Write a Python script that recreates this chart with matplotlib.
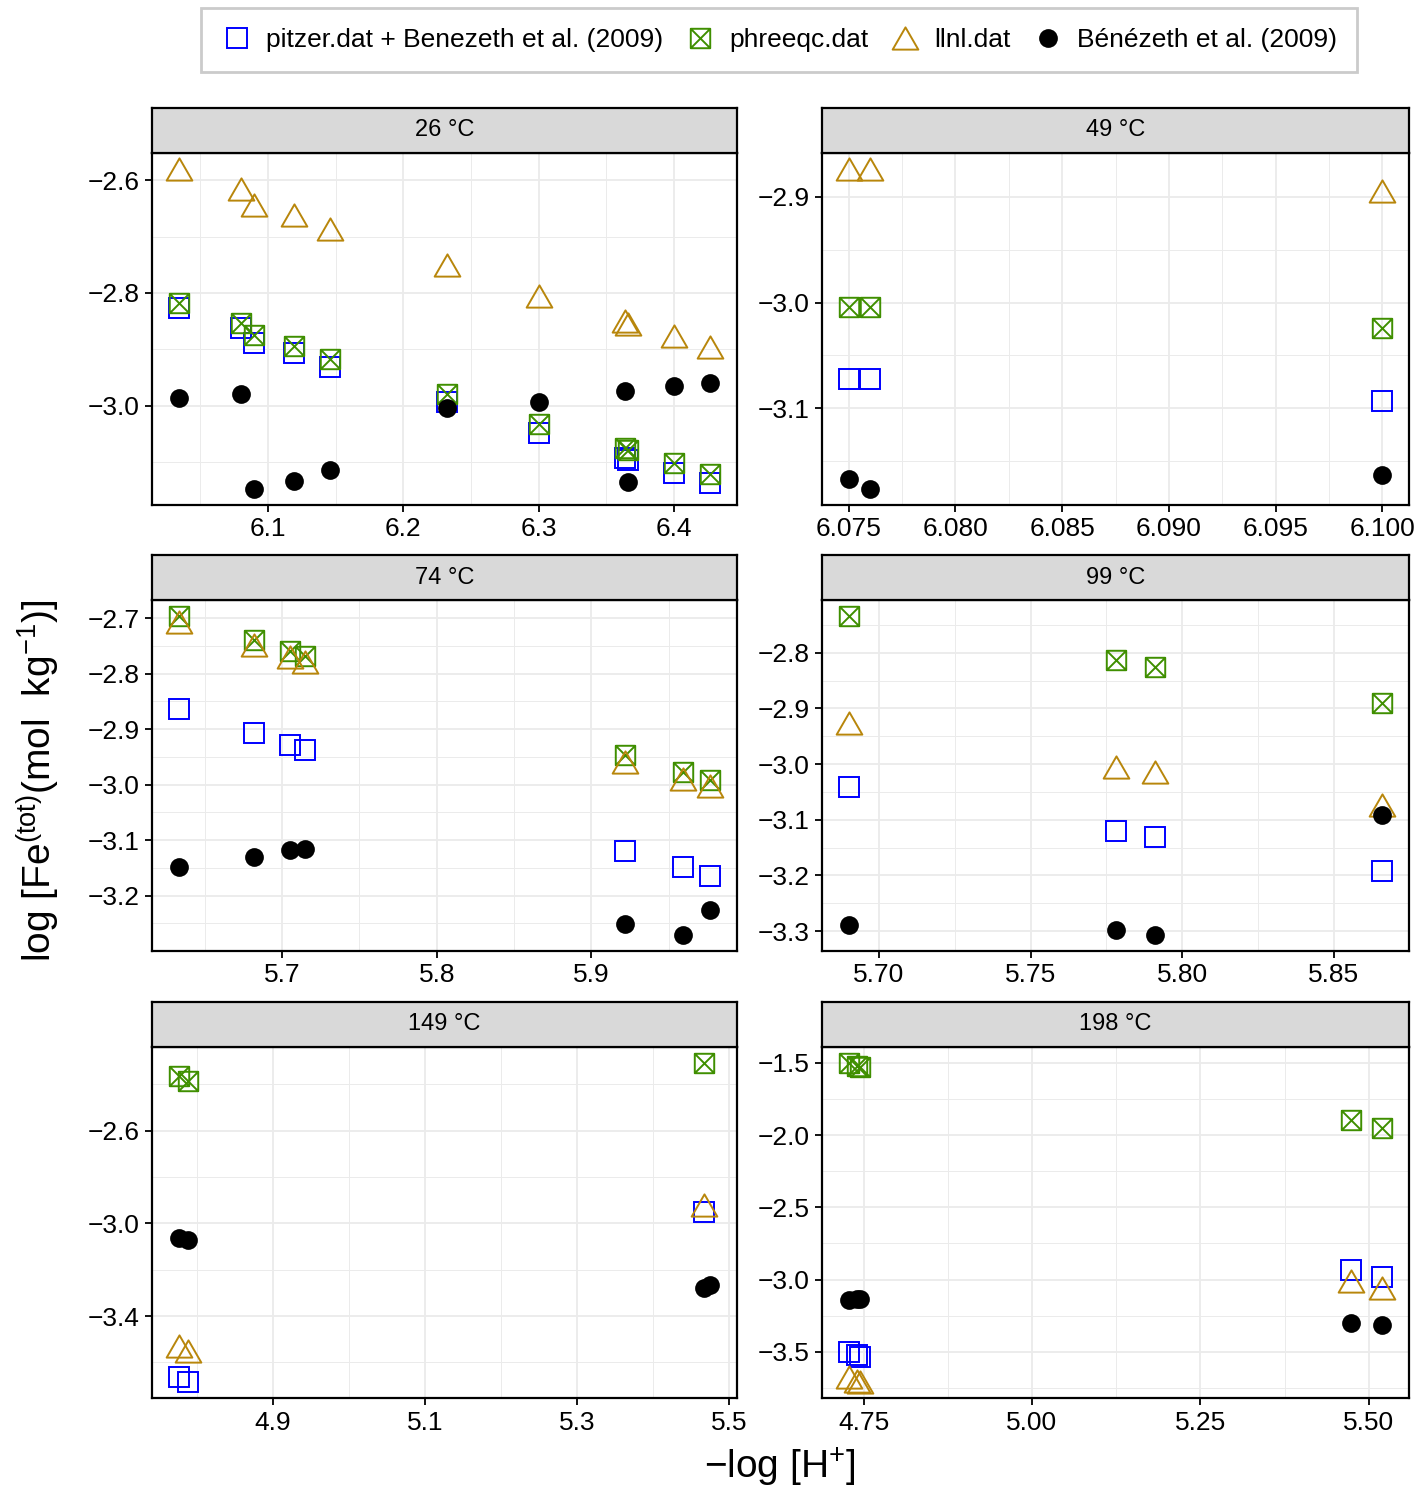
import matplotlib
matplotlib.use("Agg")
import matplotlib.pyplot as plt
import matplotlib.path as mpath
from matplotlib.lines import Line2D
from matplotlib.ticker import FixedLocator, FuncFormatter

plt.rcParams['font.family'] = ['Liberation Sans', 'DejaVu Sans']
plt.rcParams['mathtext.fontset'] = 'custom'
plt.rcParams['mathtext.rm'] = 'Liberation Sans'
plt.rcParams['mathtext.it'] = 'Liberation Sans'

# facet titles
temps = ["26 °C", "49 °C", "74 °C", "99 °C", "149 °C", "198 °C"]

# -log[H+] of the model points, per facet
ph = [
    [6.034, 6.080, 6.090, 6.119, 6.146, 6.232, 6.300, 6.364, 6.366, 6.400, 6.427],
    [6.075, 6.076, 6.100],
    [5.633, 5.682, 5.705, 5.715, 5.922, 5.959, 5.977],
    [5.690, 5.778, 5.791, 5.866],
    [4.776, 4.788, 5.466],
    [4.728, 4.740, 4.745, 5.474, 5.520],
]
# log Fe(tot) for each database
pitzer = [
    [-2.827, -2.863, -2.888, -2.907, -2.932, -2.994, -3.049, -3.093, -3.097, -3.119, -3.138],
    [-3.072, -3.072, -3.093],
    [-2.864, -2.907, -2.928, -2.937, -3.119, -3.148, -3.164],
    [-3.041, -3.120, -3.131, -3.192],
    [-3.665, -3.685, -2.952],
    [-3.500, -3.523, -3.535, -2.933, -2.979],
]
phreeqc = [
    [-2.817, -2.853, -2.874, -2.894, -2.917, -2.979, -3.033, -3.075, -3.079, -3.102, -3.121],
    [-3.004, -3.004, -3.024],
    [-2.696, -2.739, -2.760, -2.769, -2.946, -2.977, -2.992],
    [-2.734, -2.813, -2.825, -2.891],
    [-2.365, -2.385, -2.307],
    [-1.500, -1.519, -1.528, -1.895, -1.951],
]
llnl = [
    [-2.580, -2.616, -2.644, -2.662, -2.686, -2.750, -2.805, -2.850, -2.855, -2.877, -2.896],
    [-2.874, -2.874, -2.895],
    [-2.707, -2.749, -2.770, -2.779, -2.959, -2.989, -3.003],
    [-2.926, -3.005, -3.014, -3.074],
    [-3.531, -3.551, -2.921],
    [-3.674, -3.700, -3.710, -3.012, -3.058],
]
# measured values (Benezeth et al. 2009)
obs_ph = [
    [6.034, 6.080, 6.090, 6.119, 6.146, 6.232, 6.300, 6.364, 6.366, 6.400, 6.427],
    [6.075, 6.076, 6.100],
    [5.633, 5.682, 5.705, 5.715, 5.922, 5.959, 5.977],
    [5.690, 5.778, 5.791, 5.866],
    [4.776, 4.788, 5.466, 5.475],
    [4.728, 4.740, 4.745, 5.474, 5.520],
]
obs = [
    [-2.987, -2.979, -3.148, -3.134, -3.115, -3.004, -2.993, -2.974, -3.136, -2.965, -2.959],
    [-3.167, -3.176, -3.163],
    [-3.149, -3.131, -3.118, -3.116, -3.251, -3.271, -3.226],
    [-3.289, -3.298, -3.307, -3.091],
    [-3.062, -3.073, -3.279, -3.264],
    [-3.142, -3.137, -3.137, -3.298, -3.316],
]

xticks = [
    [6.1, 6.2, 6.3, 6.4],
    [6.075, 6.080, 6.085, 6.090, 6.095, 6.100],
    [5.7, 5.8, 5.9],
    [5.70, 5.75, 5.80, 5.85],
    [4.9, 5.1, 5.3, 5.5],
    [4.75, 5.00, 5.25, 5.50],
]
xdec = [1, 3, 1, 2, 1, 2]
yticks = [
    [-2.6, -2.8, -3.0],
    [-2.9, -3.0, -3.1],
    [-2.7, -2.8, -2.9, -3.0, -3.1, -3.2],
    [-2.8, -2.9, -3.0, -3.1, -3.2, -3.3],
    [-2.6, -3.0, -3.4],
    [-1.5, -2.0, -2.5, -3.0, -3.5],
]

# markers
sq_x = mpath.Path(
    [(-1, -1), (1, -1), (1, 1), (-1, 1), (-1, -1), (-1, -1), (1, 1), (-1, 1), (1, -1)],
    [1, 2, 2, 2, 79, 1, 2, 1, 2])
tri = mpath.Path([(-1.155, -1), (1.155, -1), (0, 1), (-1.155, -1)], [1, 2, 2, 79])

blue = "#0000FF"
green = "#3F8F00"
gold = "#B8860B"
W, H = 1419, 1491

fig = plt.figure(figsize=(W / 100, H / 100), dpi=100)

cols = [(152, 737), (822, 1409)]
rows = [(153, 505), (600, 951), (1047, 1398)]
strip_h = 45


def box(x0, x1, y0, y1):
    return [x0 / W, 1 - y1 / H, (x1 - x0) / W, (y1 - y0) / H]


def minors(t):
    step = t[1] - t[0]
    return [t[0] - step / 2] + [v + step / 2 for v in t]


sty_sq = dict(ls='none', marker='s', ms=14, mfc='none', mec=blue, mew=1.4)
sty_sx = dict(ls='none', marker=sq_x, ms=14, mfc='none', mec=green, mew=1.4)
sty_tr = dict(ls='none', marker=tri, ms=18.5, mfc='none', mec=gold, mew=1.4)
sty_pt = dict(ls='none', marker='o', ms=13.5, mfc='black', mec='black', mew=0)

for i in range(6):
    x0, x1 = cols[i % 2]
    y0, y1 = rows[i // 2]
    ax = fig.add_axes(box(x0, x1, y0, y1))
    ax.plot(ph[i], pitzer[i], zorder=3, **sty_sq)
    ax.plot(ph[i], phreeqc[i], zorder=4, **sty_sx)
    ax.plot(ph[i], llnl[i], zorder=5, **sty_tr)
    ax.plot(obs_ph[i], obs[i], zorder=6, **sty_pt)

    ax.xaxis.set_major_locator(FixedLocator(xticks[i]))
    ax.xaxis.set_minor_locator(FixedLocator(minors(xticks[i])))
    ax.yaxis.set_major_locator(FixedLocator(yticks[i]))
    ax.yaxis.set_minor_locator(FixedLocator(minors(yticks[i])))
    d = xdec[i]
    ax.xaxis.set_major_formatter(FuncFormatter(lambda v, p, d=d: f"{v:.{d}f}".replace("-", "\u2212")))
    ax.yaxis.set_major_formatter(FuncFormatter(lambda v, p: f"{v:.1f}".replace("-", "\u2212")))
    ax.grid(which='major', color='#EBEBEB', lw=1.3)
    ax.grid(which='minor', color='#EBEBEB', lw=0.7)
    ax.set_axisbelow(True)
    ax.tick_params(which='major', length=5, width=1.3, labelsize=19, colors='black', pad=4)
    ax.tick_params(which='minor', length=0)
    for s in ax.spines.values():
        s.set_linewidth(1.6)

    sax = fig.add_axes(box(x0, x1, y0 - strip_h, y0))
    sax.set_facecolor('#D9D9D9')
    sax.set_xticks([])
    sax.set_yticks([])
    for s in sax.spines.values():
        s.set_linewidth(1.6)
    sax.text(0.5, 0.5, temps[i], ha='center', va='center', fontsize=17, transform=sax.transAxes)

fig.text(38 / W, 1 - 781 / H, r"log [Fe$^{\mathrm{(tot)}}$(mol  kg$^{-1}$)]",
         rotation=90, ha='center', va='center', fontsize=28)
fig.text(780 / W, 1 - 1467 / H, r"$-$log [H$^{+}$]", ha='center', va='center', fontsize=28)

handles = [Line2D([], [], **sty_sq), Line2D([], [], **sty_sx),
           Line2D([], [], **sty_tr), Line2D([], [], **sty_pt)]
labels = ["pitzer.dat + Benezeth et al. (2009)", "phreeqc.dat", "llnl.dat", "Bénézeth et al. (2009)"]
leg = fig.legend(handles, labels, loc='center', bbox_to_anchor=(779 / W, 1 - 40 / H), ncol=4,
                 fontsize=19, frameon=True, fancybox=False, edgecolor='#BEBEBE',
                 handletextpad=0.5, columnspacing=0.8, handlelength=1.2, borderpad=0.75)
leg.get_frame().set_linewidth(2)

fig.savefig("out.png", dpi=100)
